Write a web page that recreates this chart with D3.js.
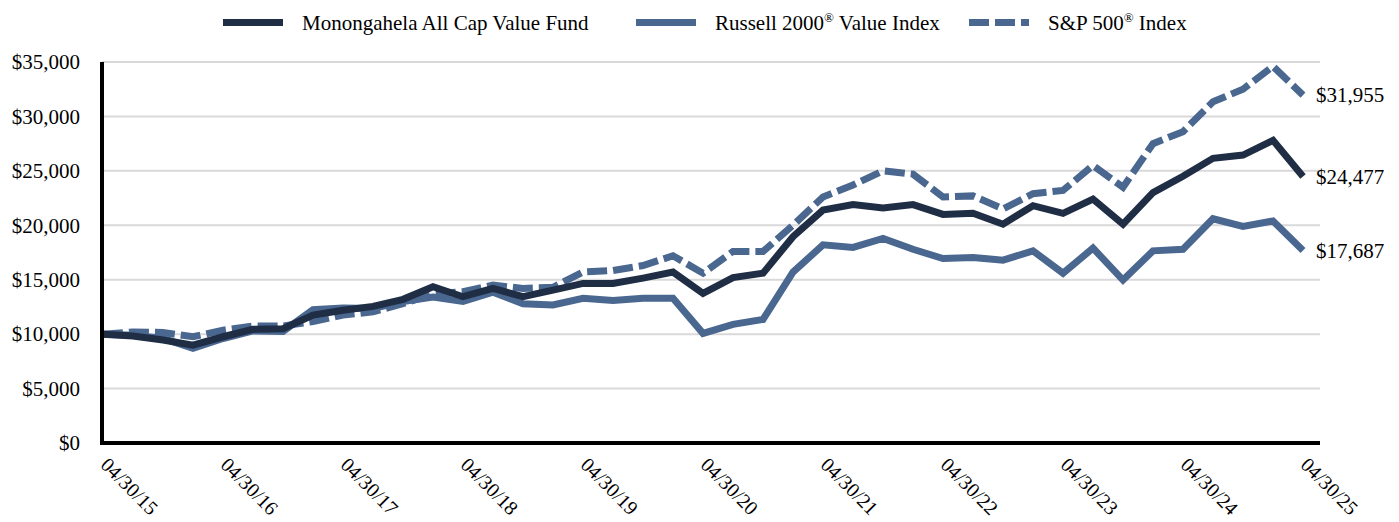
<!DOCTYPE html>
<meta charset="utf-8">
<body style="margin:0;background:#fff">
    <div id='chart'></div>
</body>
<script src="https://d3js.org/d3.v7.min.js"></script>
<style>
    text { font-family: "Liberation Serif", "Times New Roman", serif; fill: #000; }
    .grid line { stroke: #d9d9d9; stroke-width: 2px; }
</style>
<script>

    // quarterly values, 04/30/15 .. 04/30/25
    var fund = [10000, 9830, 9460, 8990, 9760, 10440, 10500, 11750, 12200, 12550,
        13200, 14360, 13440, 14200, 13440, 14050, 14660, 14660, 15150, 15700,
        13750, 15200, 15600, 18950, 21400, 21900, 21600, 21900, 21000, 21100,
        20100, 21800, 21100, 22400, 20100, 23000, 24500, 26150, 26450, 27800, 24477];

    var russell = [10000, 9900, 9600, 8700, 9600, 10300, 10250, 12250, 12400, 12350,
        13000, 13400, 13000, 13850, 12800, 12680, 13300, 13100, 13300, 13300,
        10070, 10900, 11350, 15700, 18200, 17970, 18800, 17800, 16950, 17050,
        16800, 17650, 15600, 17900, 14970, 17650, 17800, 20600, 19900, 20400, 17687];

    var sp500 = [10000, 10200, 10150, 9760, 10360, 10750, 10750, 11150, 11750, 12050,
        12800, 13700, 13900, 14500, 14200, 14300, 15700, 15850, 16300, 17200,
        15600, 17600, 17600, 20000, 22600, 23700, 25000, 24700, 22600, 22700,
        21500, 22900, 23200, 25500, 23500, 27500, 28600, 31350, 32500, 34600, 31955];

    var tickLabels = ["04/30/15", "04/30/16", "04/30/17", "04/30/18", "04/30/19", "04/30/20",
        "04/30/21", "04/30/22", "04/30/23", "04/30/24", "04/30/25"];
    var yTicks = [0, 5000, 10000, 15000, 20000, 25000, 30000, 35000];

    var navy = "#1f2d45",
        steel = "#4a6790";

    var width = 1399,
        height = 522;

    var svg = d3.select("#chart")
        .append("svg")
            .attr("width", width)
            .attr("height", height);

    var x = d3.scaleLinear().domain([0, fund.length - 1]).range([103, 1303]);
    var y = d3.scaleLinear().domain([0, 35000]).range([443, 62]);

    // gridlines
    svg.append("g")
        .attr("class", "grid")
        .selectAll("line")
        .data(yTicks.slice(1))
        .enter().append("line")
            .attr("x1", 102).attr("x2", 1320)
            .attr("y1", d => y(d)).attr("y2", d => y(d));

    // y axis
    var yAxis = svg.append("g")
        .attr("transform", "translate(102,0)")
        .call(d3.axisLeft(y).tickValues(yTicks).tickFormat(d3.format("$,")).tickSize(0).tickPadding(22));
    yAxis.select(".domain").remove();
    yAxis.selectAll("text")
        .attr("font-size", 21)
        .style("font-family", '"Liberation Serif", serif');

    // x axis labels, rotated
    var xAxis = svg.append("g")
        .attr("transform", "translate(0,443)")
        .call(d3.axisBottom(x).tickValues(d3.range(0, fund.length, 4))
            .tickFormat((d, i) => tickLabels[i]).tickSize(0));
    xAxis.select(".domain").remove();
    xAxis.selectAll("text")
        .attr("x", 0).attr("y", 0).attr("dy", 0)
        .attr("text-anchor", "start")
        .attr("transform", "translate(-4,23) rotate(45)")
        .attr("font-size", 20)
        .style("font-family", '"Liberation Serif", serif');

    var line = d3.line()
        .x((d, i) => x(i))
        .y(d => y(d));

    svg.append("path").datum(russell)
        .attr("d", line).attr("fill", "none")
        .attr("stroke", steel).attr("stroke-width", 7);

    svg.append("path").datum(sp500)
        .attr("d", line).attr("fill", "none")
        .attr("stroke", steel).attr("stroke-width", 7)
        .attr("stroke-dasharray", "20,6");

    svg.append("path").datum(fund)
        .attr("d", line).attr("fill", "none")
        .attr("stroke", navy).attr("stroke-width", 7);

    // axis lines
    svg.append("line")
        .attr("x1", 102).attr("x2", 102).attr("y1", 62).attr("y2", 445)
        .attr("stroke", "#000").attr("stroke-width", 4);
    svg.append("line")
        .attr("x1", 100).attr("x2", 1320).attr("y1", 443).attr("y2", 443)
        .attr("stroke", "#000").attr("stroke-width", 4);

    // end value labels
    var ends = [sp500, fund, russell];
    svg.append("g").selectAll("text")
        .data(ends)
        .enter().append("text")
            .attr("x", 1316)
            .attr("y", d => y(d[d.length - 1]))
            .attr("dy", "0.35em")
            .attr("font-size", 21)
            .text(d => d3.format("$,")(d[d.length - 1]));

    // legend
    var legend = svg.append("g");
    var items = [
        {name: "Monongahela All Cap Value Fund", sup: "", color: navy, dash: null, x: 223},
        {name: "Russell 2000", sup: "®", rest: " Value Index", color: steel, dash: null, x: 636},
        {name: "S&P 500", sup: "®", rest: " Index", color: steel, dash: "20,6", x: 969}
    ];
    items.forEach(function (it) {
        legend.append("line")
            .attr("x1", it.x).attr("x2", it.x + 60)
            .attr("y1", 22.5).attr("y2", 22.5)
            .attr("stroke", it.color).attr("stroke-width", 7)
            .attr("stroke-dasharray", it.dash);
        var t = legend.append("text")
            .attr("x", it.x + 79).attr("y", 30)
            .attr("font-size", 21);
        t.append("tspan").text(it.name);
        if (it.sup) {
            t.append("tspan").attr("font-size", 13).attr("dy", -8).text(it.sup);
            t.append("tspan").attr("dy", 8).text(it.rest);
        }
    });

</script>
